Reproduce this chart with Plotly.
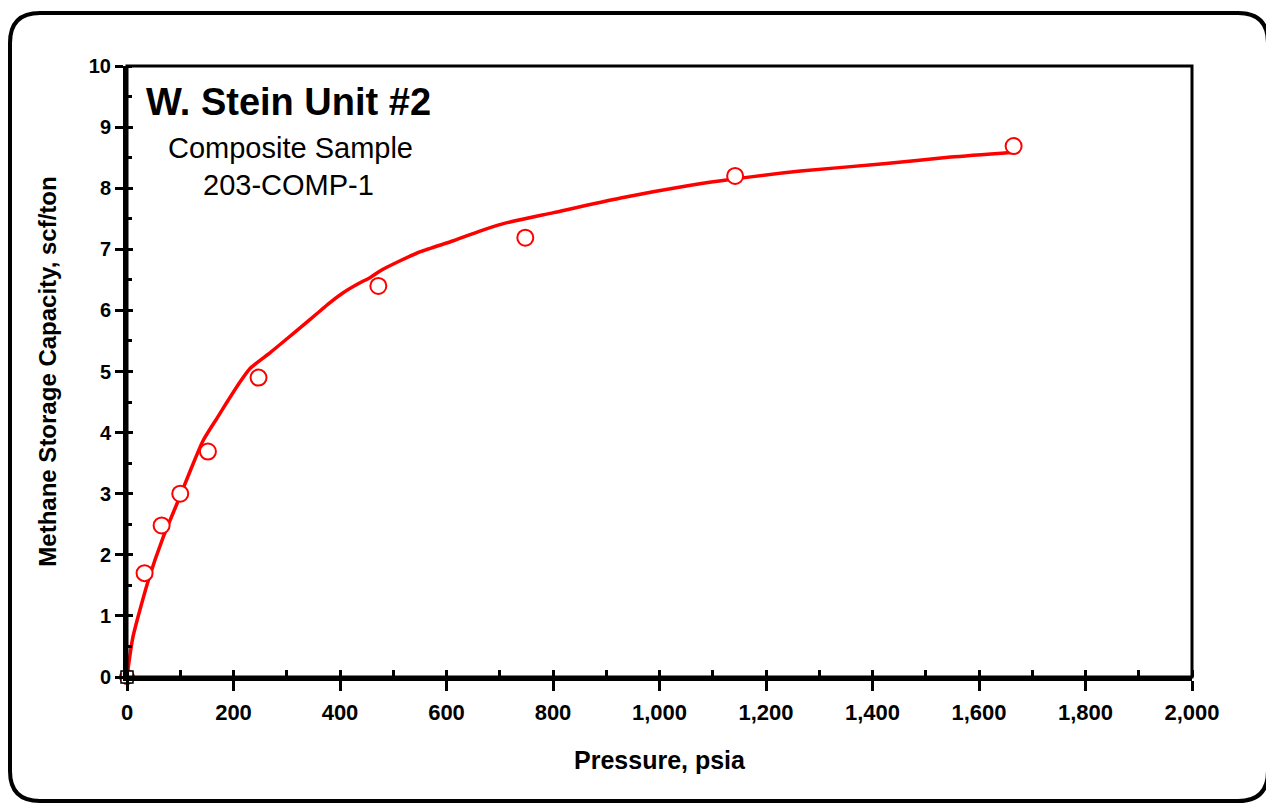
import plotly.graph_objects as go

# Measured isotherm points (psia, scf/ton)
meas_p = [33, 65, 100, 152, 247, 472, 748, 1142, 1665]
meas_v = [1.70, 2.48, 3.00, 3.69, 4.90, 6.40, 7.19, 8.20, 8.69]
origin_p = [0]
origin_v = [0]

# Fitted curve
fit_p = [0, 11, 40, 68, 94, 119, 143, 170, 190, 210, 231, 269, 301, 330, 357, 380, 406,
         435, 457, 476, 510, 551, 613, 660, 707, 801, 927, 1053, 1139, 1265, 1421, 1547, 1665]
fit_v = [0, 0.65, 1.58, 2.29, 2.84, 3.38, 3.87, 4.25, 4.53, 4.80, 5.05, 5.31, 5.54, 5.75,
         5.95, 6.12, 6.29, 6.44, 6.54, 6.65, 6.80, 6.96, 7.14, 7.29, 7.42, 7.60, 7.84, 8.04,
         8.15, 8.28, 8.40, 8.51, 8.59]

x_ticks = [0, 200, 400, 600, 800, 1000, 1200, 1400, 1600, 1800, 2000]
x_tick_text = ["0", "200", "400", "600", "800", "1,000", "1,200", "1,400", "1,600", "1,800", "2,000"]
y_ticks = [0, 1, 2, 3, 4, 5, 6, 7, 8, 9, 10]

title_main = "W. Stein Unit #2"
title_sub1 = "Composite Sample"
title_sub2 = "203-COMP-1"
x_title = "Pressure, psia"
y_title = "Methane Storage Capacity, scf/ton"

FONT = "Liberation Sans, Arial, sans-serif"
RED = "#ff0000"

fig = go.Figure()
fig.add_trace(go.Scatter(x=fit_p, y=fit_v, mode="lines",
                         line=dict(color=RED, width=3.5, shape="spline", smoothing=0.6),
                         hoverinfo="skip"))
fig.add_trace(go.Scatter(x=meas_p, y=meas_v, mode="markers",
                         marker=dict(symbol="circle", size=16, color="white",
                                     line=dict(color=RED, width=2))))
fig.add_trace(go.Scatter(x=origin_p, y=origin_v, mode="markers",
                         marker=dict(symbol="circle", size=15, color=RED,
                                     line=dict(color=RED, width=1)), cliponaxis=False))
fig.add_trace(go.Scatter(x=origin_p, y=origin_v, mode="markers",
                         marker=dict(symbol="square", size=12, color="white",
                                     line=dict(color="black", width=1.5)), cliponaxis=False))
# invisible trace for overlay axes
fig.add_trace(go.Scatter(x=[0], y=[0], xaxis="x2", yaxis="y2", mode="markers",
                         marker=dict(opacity=0), hoverinfo="skip"))

# page has an 8px body margin; work in figure coordinates
OFF = 8
W, H = 1274, 803
L, R, T, B = 127 - OFF, 1192 - OFF, 66 - OFF, 677 - OFF
pw, ph = R - L, B - T

def px(x):
    return (x - OFF - L) / pw

def py(y):
    return (B - (y - OFF)) / ph

# rounded outer frame (screen pixel positions)
bl, br, bt, bb = px(10), px(1268), py(13), py(801)
rx, ry = 30 / pw, 30 / ph
path = (f"M {bl+rx},{bt} L {br-rx},{bt} Q {br},{bt} {br},{bt-ry} "
        f"L {br},{bb+ry} Q {br},{bb} {br-rx},{bb} L {bl+rx},{bb} "
        f"Q {bl},{bb} {bl},{bb+ry} L {bl},{bt-ry} Q {bl},{bt} {bl+rx},{bt} Z")

fig.update_layout(
    width=W, height=H,
    margin=dict(l=L, r=W - R, t=T, b=H - B),
    paper_bgcolor="white", plot_bgcolor="white",
    showlegend=False,
    font=dict(family=FONT, color="black"),
    xaxis=dict(range=[0, 2000], tickvals=x_ticks, ticktext=x_tick_text,
               ticks="outside", ticklen=10, tickwidth=3, tickcolor="black",
               showline=True, linewidth=4, linecolor="black", showgrid=False,
               zeroline=False, ticklabelstandoff=3,
               tickfont=dict(family=FONT, size=22, color="black", weight="bold"),
               minor=dict(dtick=100, ticks="inside", ticklen=7, tickwidth=3,
                          tickcolor="black", showgrid=False),
               title=dict(text="<b>" + x_title + "</b>",
                          font=dict(family=FONT, size=25, color="black"), standoff=28)),
    yaxis=dict(range=[0, 10], tickvals=y_ticks,
               ticks="outside", ticklen=8, tickwidth=3, tickcolor="black",
               showline=True, linewidth=4, linecolor="black", showgrid=False,
               zeroline=False,
               tickfont=dict(family=FONT, size=20, color="black", weight="bold"),
               minor=dict(dtick=0.5, ticks="inside", ticklen=5, tickwidth=3,
                          tickcolor="black", showgrid=False),
               title=dict(text="<b>" + y_title + "</b>",
                          font=dict(family=FONT, size=24, color="black"), standoff=26)),
    xaxis2=dict(range=[0, 2000], overlaying="x", anchor="y", side="bottom",
                tickvals=x_ticks, ticks="inside", ticklen=7, tickwidth=3,
                tickcolor="black", showticklabels=False, showgrid=False,
                zeroline=False, showline=False),
    yaxis2=dict(range=[0, 10], overlaying="y", anchor="x", side="left",
                tickvals=y_ticks, ticks="inside", ticklen=6, tickwidth=3,
                tickcolor="black", showticklabels=False, showgrid=False,
                zeroline=False, showline=False),
    shapes=[
        dict(type="rect", xref="paper", yref="paper", x0=0, x1=1, y0=0, y1=1,
             line=dict(color="black", width=3), layer="above"),
        dict(type="path", xref="paper", yref="paper", path=path,
             line=dict(color="black", width=4)),
    ],
    annotations=[
        dict(text="<b>" + title_main + "</b>", xref="paper", yref="paper",
             x=px(288), y=py(102), xanchor="center", yanchor="middle",
             showarrow=False, font=dict(family=FONT, size=38, color="black")),
        dict(text=title_sub1, xref="paper", yref="paper",
             x=px(290), y=py(148), xanchor="center", yanchor="middle",
             showarrow=False, font=dict(family=FONT, size=29, color="black")),
        dict(text=title_sub2, xref="paper", yref="paper",
             x=px(288), y=py(185), xanchor="center", yanchor="middle",
             showarrow=False, font=dict(family=FONT, size=29, color="black")),
    ],
)

fig.write_html("out.html")
